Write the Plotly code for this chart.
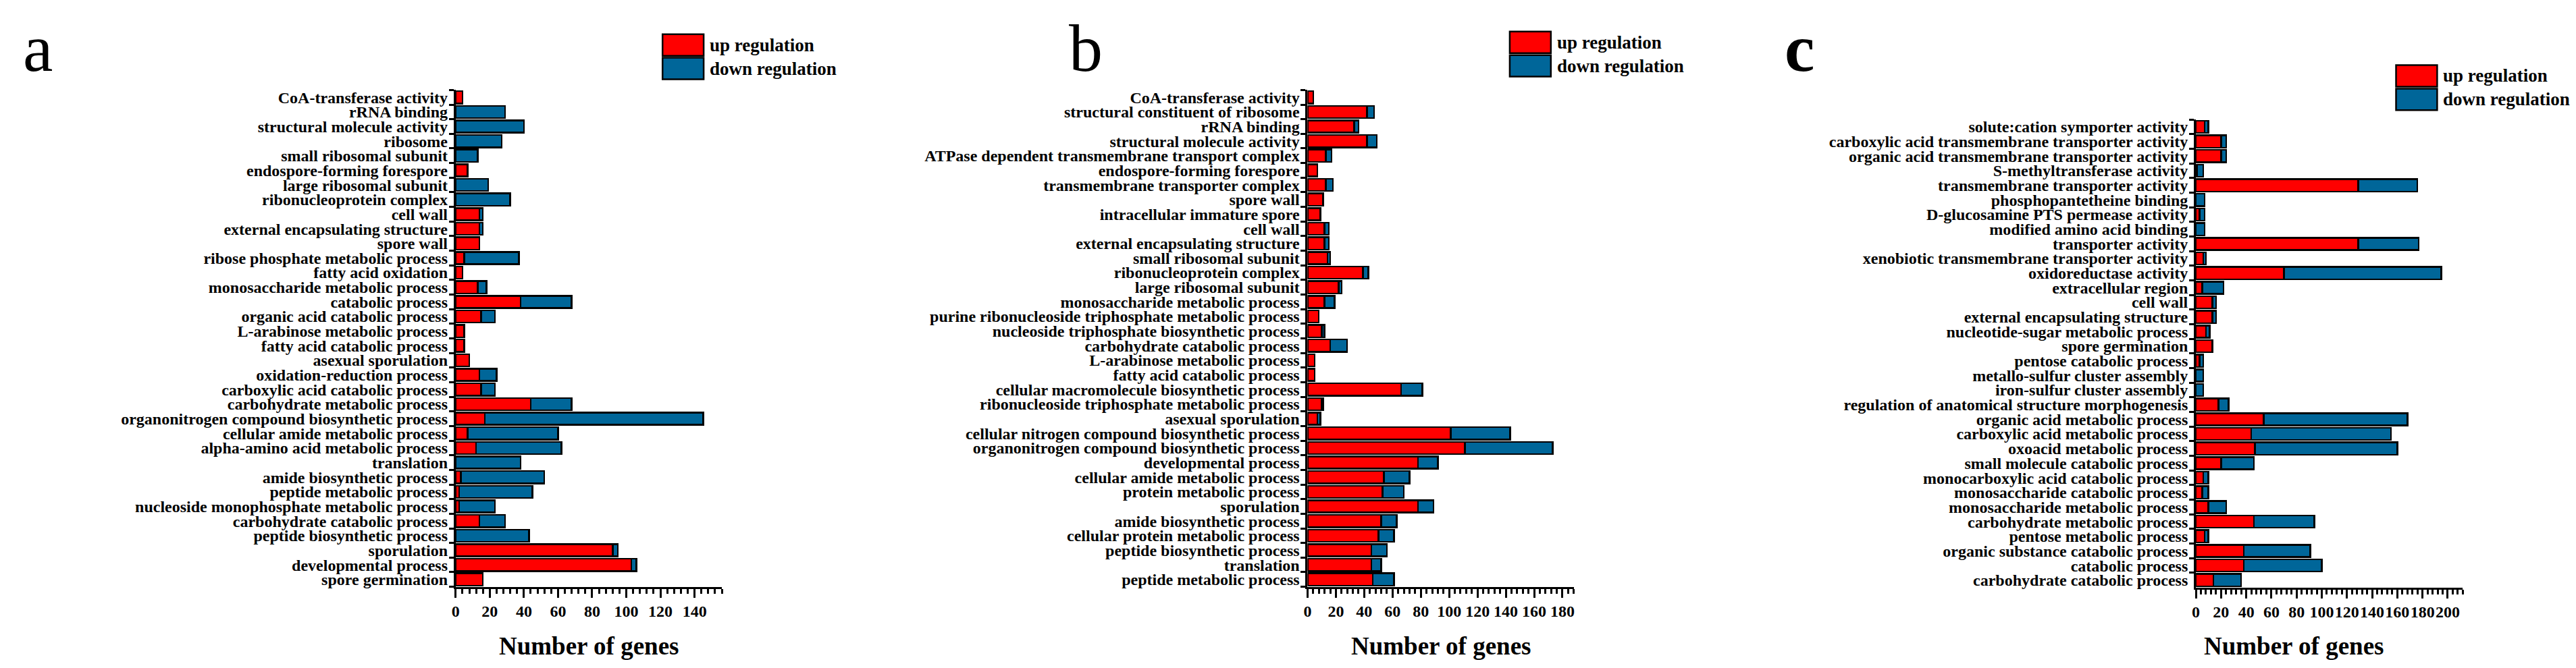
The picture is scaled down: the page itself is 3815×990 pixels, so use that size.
import plotly.graph_objects as go

FONT = "Liberation Serif"
RED = "#FF0000"
BLUE = "#006699"
W, H = 3815, 990

# ---------------- data ----------------
terms_a = ["CoA-transferase activity", "rRNA binding", "structural molecule activity", "ribosome",
           "small ribosomal subunit", "endospore-forming forespore", "large ribosomal subunit",
           "ribonucleoprotein complex", "cell wall", "external encapsulating structure", "spore wall",
           "ribose phosphate metabolic process", "fatty acid oxidation", "monosaccharide metabolic process",
           "catabolic process", "organic acid catabolic process", "L-arabinose metabolic process",
           "fatty acid catabolic process", "asexual sporulation", "oxidation-reduction process",
           "carboxylic acid catabolic process", "carbohydrate metabolic process",
           "organonitrogen compound biosynthetic process", "cellular amide metabolic process",
           "alpha-amino acid metabolic process", "translation", "amide biosynthetic process",
           "peptide metabolic process", "nucleoside monophosphate metabolic process",
           "carbohydrate catabolic process", "peptide biosynthetic process", "sporulation",
           "developmental process", "spore germination"]
up_a = [4, 0, 0, 0, 0, 7, 0, 0, 14, 14, 14, 5, 4, 13, 38, 15, 5, 5, 8, 14, 15, 44, 17, 7, 12, 0, 3, 2, 2, 14, 0, 92, 103, 16]
down_a = [0, 29, 40, 27, 13, 0, 19, 32, 2, 2, 0, 32, 0, 5, 30, 8, 0, 0, 0, 10, 8, 24, 128, 53, 50, 38, 49, 43, 21, 15, 43, 3, 3, 0]

terms_b = ["CoA-transferase activity", "structural constituent of ribosome", "rRNA binding",
           "structural molecule activity", "ATPase dependent transmembrane transport complex",
           "endospore-forming forespore", "transmembrane transporter complex", "spore wall",
           "intracellular immature spore", "cell wall", "external encapsulating structure",
           "small ribosomal subunit", "ribonucleoprotein complex", "large ribosomal subunit",
           "monosaccharide metabolic process", "purine ribonucleoside triphosphate metabolic process",
           "nucleoside triphosphate biosynthetic process", "carbohydrate catabolic process",
           "L-arabinose metabolic process", "fatty acid catabolic process",
           "cellular macromolecule biosynthetic process", "ribonucleoside triphosphate metabolic process",
           "asexual sporulation", "cellular nitrogen compound biosynthetic process",
           "organonitrogen compound biosynthetic process", "developmental process",
           "cellular amide metabolic process", "protein metabolic process", "sporulation",
           "amide biosynthetic process", "cellular protein metabolic process",
           "peptide biosynthetic process", "translation", "peptide metabolic process"]
up_b = [4, 42, 33, 42, 13, 7, 13, 11, 9, 12, 12, 14, 39, 22, 12, 8, 10, 16, 5, 5, 66, 10, 7, 101, 111, 78, 54, 53, 78, 52, 50, 45, 45, 46]
down_b = [0, 5, 3, 7, 4, 0, 5, 0, 0, 3, 3, 2, 4, 2, 7, 0, 2, 12, 0, 0, 15, 1, 2, 42, 62, 14, 18, 15, 11, 11, 11, 11, 7, 15]

terms_c = ["solute:cation symporter activity", "carboxylic acid transmembrane transporter activity",
           "organic acid transmembrane transporter activity", "S-methyltransferase activity",
           "transmembrane transporter activity", "phosphopantetheine binding",
           "D-glucosamine PTS permease activity", "modified amino acid binding", "transporter activity",
           "xenobiotic transmembrane transporter activity", "oxidoreductase activity",
           "extracellular region", "cell wall", "external encapsulating structure",
           "nucleotide-sugar metabolic process", "spore germination", "pentose catabolic process",
           "metallo-sulfur cluster assembly", "iron-sulfur cluster assembly",
           "regulation of anatomical structure morphogenesis", "organic acid metabolic process",
           "carboxylic acid metabolic process", "oxoacid metabolic process",
           "small molecule catabolic process", "monocarboxylic acid catabolic process",
           "monosaccharide catabolic process", "monosaccharide metabolic process",
           "carbohydrate metabolic process", "pentose metabolic process",
           "organic substance catabolic process", "catabolic process", "carbohydrate catabolic process"]
up_c = [7, 20, 20, 1, 129, 0, 3, 0, 129, 6, 70, 5, 13, 13, 8, 13, 3, 0, 0, 18, 54, 44, 47, 20, 6, 5, 10, 46, 7, 38, 38, 14]
down_c = [3, 4, 4, 5, 47, 7, 4, 7, 48, 2, 125, 17, 3, 3, 3, 0, 3, 6, 6, 8, 114, 111, 113, 26, 4, 5, 14, 48, 3, 53, 62, 22]

series_names = ["up regulation", "down regulation"]
x_title = "Number of genes"

# ---------------- layout helpers ----------------
def px(x):
    return x / W

def py(y):
    return 1 - y / H

panels = [
    dict(terms=terms_a, up=up_a, down=down_a, x0=662, x1=1057, y0=124, y1=864, xmax=156,
         title_x=860, legend=(969, 41), letter=(18, "a", "normal")),
    dict(terms=terms_b, up=up_b, down=down_b, x0=1926, x1=2321, y0=124, y1=864, xmax=188,
         title_x=2124, legend=(2226, 37), letter=(1570, "b", "normal")),
    dict(terms=terms_c, up=up_c, down=down_c, x0=3244, x1=3640, y0=168, y1=865, xmax=212,
         title_x=3390, legend=(3541, 87), letter=(2632, "c", "bold")),
]

fig = go.Figure()
annotations = []
shapes = []
layout_axes = {}

for i, p in enumerate(panels, start=1):
    xa = "x" if i == 1 else f"x{i}"
    ya = "y" if i == 1 else f"y{i}"
    for vals, color, name in [(p["up"], RED, series_names[0]), (p["down"], BLUE, series_names[1])]:
        fig.add_trace(go.Bar(
            x=[v if v else None for v in vals], y=p["terms"], orientation="h", name=name,
            marker=dict(color=color, line=dict(color="black", width=2.5)),
            xaxis=xa, yaxis=ya, showlegend=False, hoverinfo="x+y"))
    n = len(p["terms"])
    xkey = "xaxis" if i == 1 else f"xaxis{i}"
    ykey = "yaxis" if i == 1 else f"yaxis{i}"
    layout_axes[xkey] = dict(
        domain=[px(p["x0"]), px(p["x1"])], range=[0, p["xmax"]], anchor=ya,
        tickmode="linear", tick0=0, dtick=20, ticks="outside", ticklen=13, tickwidth=3,
        tickangle=0, tickcolor="black", showline=True, linewidth=3, linecolor="black",
        showgrid=False, zeroline=False,
        tickfont=dict(family=FONT, size=24, color="black", weight="bold"),
        minor=dict(dtick=4, tick0=0, ticks="outside", ticklen=7, tickwidth=2.5,
                   tickcolor="black", showgrid=False))
    layout_axes[ykey] = dict(
        domain=[py(p["y1"]), py(p["y0"])], anchor=xa, type="category",
        categoryorder="array", categoryarray=p["terms"], range=[n - 0.5, -0.5],
        tickmode="array", tickvals=p["terms"], ticktext=p["terms"],
        ticks="outside", tickson="boundaries", ticklen=7, tickwidth=3, tickcolor="black",
        ticklabelstandoff=4,
        showline=True, linewidth=3, linecolor="black", showgrid=False, zeroline=False,
        tickfont=dict(family=FONT, size=24, color="black", weight="bold"))

    # axis title
    annotations.append(dict(text=x_title, x=px(p["title_x"]), y=py(952), xref="paper", yref="paper",
                            xanchor="center", yanchor="middle", showarrow=False,
                            font=dict(family=FONT, size=37, color="black", weight="bold")))
    # legend boxes
    lx, ly = p["legend"]
    for k, (color, name) in enumerate([(RED, series_names[0]), (BLUE, series_names[1])]):
        top = ly + k * 35
        shapes.append(dict(type="rect", xref="paper", yref="paper",
                           x0=px(lx), x1=px(lx + 61), y0=py(top + 32), y1=py(top),
                           fillcolor=color, line=dict(color="black", width=2.5)))
        annotations.append(dict(text=name, x=px(lx + 68), y=py(top + 16), xref="paper", yref="paper",
                                xanchor="left", yanchor="middle", showarrow=False,
                                font=dict(family=FONT, size=27, color="black", weight="bold")))
    # panel letter
    lxp, letter, weight = p["letter"]
    annotations.append(dict(text=letter, x=px(lxp), y=py(62), xref="paper", yref="paper",
                            xanchor="left", yanchor="middle", showarrow=False,
                            font=dict(family=FONT, size=100, color="black", weight=weight)))

fig.update_layout(
    width=W, height=H, margin=dict(l=0, r=0, t=0, b=0),
    paper_bgcolor="white", plot_bgcolor="white", barmode="stack", bargap=0.16,
    annotations=annotations, shapes=shapes, showlegend=False, **layout_axes)

fig.write_html("out.html", config={"responsive": False, "displayModeBar": False})
